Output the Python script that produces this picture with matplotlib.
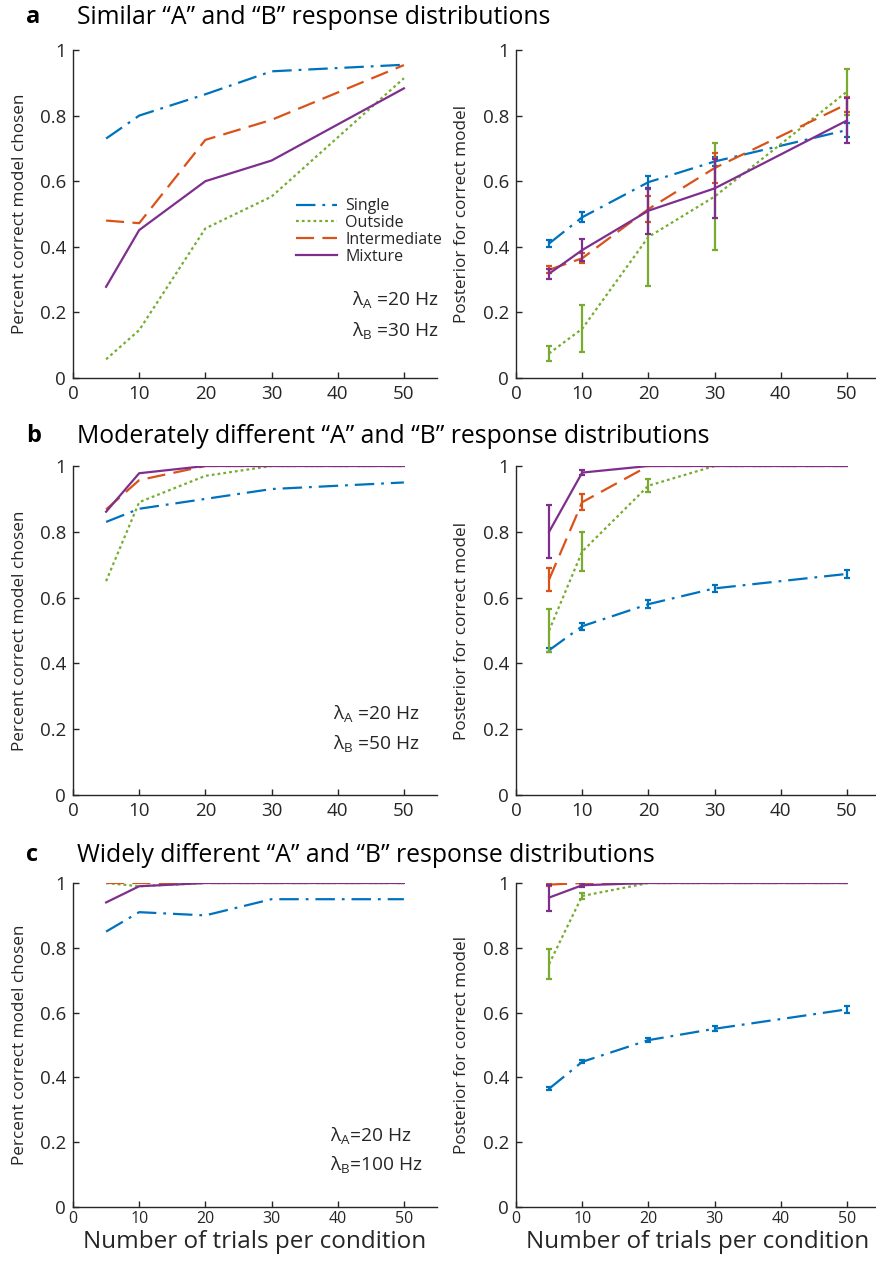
import matplotlib
matplotlib.use('Agg')
import matplotlib.pyplot as plt
import numpy as np

plt.rcParams['font.family'] = ['Open Sans', 'DejaVu Sans']
plt.rcParams['mathtext.fontset'] = 'custom'
plt.rcParams['mathtext.rm'] = 'Open Sans'
plt.rcParams['mathtext.it'] = 'Open Sans'
plt.rcParams['lines.scale_dashes'] = False

# ---------------- data ----------------
trials = [5, 10, 20, 30, 50]
x_ticks = [0, 10, 20, 30, 40, 50]
y_ticks = [0, 0.2, 0.4, 0.6, 0.8, 1]
y_tick_labels = ['0', '0.2', '0.4', '0.6', '0.8', '1']
models = ['Single', 'Outside', 'Intermediate', 'Mixture']

panel_letters = ['a', 'b', 'c']
panel_titles = ['Similar \u201cA\u201d and \u201cB\u201d response distributions',
                'Moderately different \u201cA\u201d and \u201cB\u201d response distributions',
                'Widely different \u201cA\u201d and \u201cB\u201d response distributions']
lambda_a_text = [r'$\lambda_{\mathrm{A}}$ =20 Hz', r'$\lambda_{\mathrm{A}}$ =20 Hz', r'$\lambda_{\mathrm{A}}$=20 Hz']
lambda_b_text = [r'$\lambda_{\mathrm{B}}$ =30 Hz', r'$\lambda_{\mathrm{B}}$ =50 Hz', r'$\lambda_{\mathrm{B}}$=100 Hz']

# percent correct model chosen (left column)
pc_a_single = [0.73, 0.80, 0.865, 0.935, 0.955]
pc_a_outside = [0.057, 0.146, 0.456, 0.553, 0.914]
pc_a_intermediate = [0.48, 0.472, 0.726, 0.787, 0.954]
pc_a_mixture = [0.278, 0.451, 0.60, 0.663, 0.883]

pc_b_single = [0.83, 0.87, 0.90, 0.93, 0.95]
pc_b_outside = [0.65, 0.89, 0.97, 1.0, 1.0]
pc_b_intermediate = [0.868, 0.957, 1.0, 1.0, 1.0]
pc_b_mixture = [0.861, 0.978, 1.0, 1.0, 1.0]

pc_c_single = [0.85, 0.91, 0.90, 0.95, 0.95]
pc_c_outside = [1.0, 0.99, 1.0, 1.0, 1.0]
pc_c_intermediate = [1.0, 1.0, 1.0, 1.0, 1.0]
pc_c_mixture = [0.94, 0.99, 1.0, 1.0, 1.0]

# posterior for correct model (right column) and error bars
post_a_single = [0.41, 0.49, 0.597, 0.66, 0.756]
post_a_outside = [0.075, 0.15, 0.43, 0.553, 0.873]
post_a_intermediate = [0.33, 0.365, 0.515, 0.64, 0.835]
post_a_mixture = [0.318, 0.39, 0.51, 0.578, 0.785]
err_a_single = [0.01, 0.015, 0.02, 0.015, 0.022]
err_a_outside = [0.022, 0.072, 0.15, 0.163, 0.07]
err_a_intermediate = [0.01, 0.015, 0.04, 0.046, 0.023]
err_a_mixture = [0.015, 0.034, 0.07, 0.09, 0.068]

post_b_single = [0.44, 0.513, 0.58, 0.628, 0.672]
post_b_outside = [0.50, 0.74, 0.94, 1.0, 1.0]
post_b_intermediate = [0.655, 0.89, 1.0, 1.0, 1.0]
post_b_mixture = [0.80, 0.98, 1.0, 1.0, 1.0]
err_b_single = [0.006, 0.01, 0.013, 0.01, 0.013]
err_b_outside = [0.065, 0.06, 0.02, 0.0, 0.0]
err_b_intermediate = [0.035, 0.025, 0.0, 0.0, 0.0]
err_b_mixture = [0.08, 0.008, 0.0, 0.0, 0.0]

post_c_single = [0.365, 0.448, 0.515, 0.55, 0.61]
post_c_outside = [0.75, 0.96, 1.0, 1.0, 1.0]
post_c_intermediate = [0.995, 1.0, 1.0, 1.0, 1.0]
post_c_mixture = [0.955, 0.993, 1.0, 1.0, 1.0]
err_c_single = [0.005, 0.005, 0.007, 0.008, 0.01]
err_c_outside = [0.045, 0.008, 0.0, 0.0, 0.0]
err_c_intermediate = [0.005, 0.002, 0.0, 0.0, 0.0]
err_c_mixture = [0.04, 0.006, 0.0, 0.0, 0.0]

# ---------------- styles ----------------
colors = {'Single': '#0072BD', 'Outside': '#77AC30',
          'Intermediate': '#D95319', 'Mixture': '#7E2F8E'}
styles = {'Single': (0, (14, 5, 2, 5)), 'Outside': (0, (2, 2.2)),
          'Intermediate': (0, (13, 6)), 'Mixture': '-'}
axis_color = '#262626'
LW = 1.6

pc_sets = [[pc_a_single, pc_a_outside, pc_a_intermediate, pc_a_mixture],
           [pc_b_single, pc_b_outside, pc_b_intermediate, pc_b_mixture],
           [pc_c_single, pc_c_outside, pc_c_intermediate, pc_c_mixture]]
post_sets = [[post_a_single, post_a_outside, post_a_intermediate, post_a_mixture],
             [post_b_single, post_b_outside, post_b_intermediate, post_b_mixture],
             [post_c_single, post_c_outside, post_c_intermediate, post_c_mixture]]
err_sets = [[err_a_single, err_a_outside, err_a_intermediate, err_a_mixture],
            [err_b_single, err_b_outside, err_b_intermediate, err_b_mixture],
            [err_c_single, err_c_outside, err_c_intermediate, err_c_mixture]]

W, H = 876, 1264
fig = plt.figure(figsize=(W / 100, H / 100), dpi=100)

rows = [(50, 378), (466, 795), (883, 1207)]
title_y = [17, 436, 855]
left_x0, right_x0, ax_w = 73, 516, 364


def style_axis(ax, bottom_row=False):
    ax.set_xlim(0, 55)
    ax.set_ylim(0, 1)
    ax.set_xticks(x_ticks)
    ax.set_xticklabels([str(t) for t in x_ticks])
    ax.set_yticks(y_ticks)
    ax.set_yticklabels(y_tick_labels)
    for s in ['top', 'right']:
        ax.spines[s].set_visible(False)
    for s in ['left', 'bottom']:
        ax.spines[s].set_color(axis_color)
        ax.spines[s].set_linewidth(1.0)
    ax.tick_params(direction='in', length=4, width=1, colors=axis_color,
                   labelsize=13.5, pad=5)
    ax.patch.set_alpha(0)
    if bottom_row:
        ax.tick_params(axis='x', labelsize=11.5, pad=3)
        ax.set_xlabel('Number of trials per condition', fontsize=17.5, color=axis_color)
        ax.xaxis.set_label_coords(0.5, -0.072)


for r, (top, bot) in enumerate(rows):
    h = bot - top
    axL = fig.add_axes([left_x0 / W, (H - bot) / H, ax_w / W, h / H])
    axR = fig.add_axes([right_x0 / W, (H - bot) / H, ax_w / W, h / H])

    for m, vals in zip(models, pc_sets[r]):
        axL.plot(trials, vals, color=colors[m], linestyle=styles[m], lw=LW, label=m)

    for m, vals, errs in zip(models, post_sets[r], err_sets[r]):
        axR.plot(trials, vals, color=colors[m], linestyle=styles[m], lw=LW)
        xs = [t for t, e in zip(trials, errs) if e > 0]
        ys = [v for v, e in zip(vals, errs) if e > 0]
        es = [e for e in errs if e > 0]
        axR.errorbar(xs, ys, yerr=es, fmt='none', ecolor=colors[m],
                     elinewidth=LW, capsize=2, capthick=LW)

    style_axis(axL, bottom_row=(r == 2))
    style_axis(axR, bottom_row=(r == 2))
    axL.set_ylabel('Percent correct model chosen', fontsize=12.3, color=axis_color)
    axL.yaxis.set_label_coords(-0.124, 0.5)
    axR.set_ylabel('Posterior for correct model', fontsize=12.3, color=axis_color)
    axR.yaxis.set_label_coords(-0.126, 0.5)

    lam_pos = [(0.766, 0.238, 0.146), (0.714, 0.249, 0.158), (0.706, 0.222, 0.13)][r]
    axL.text(lam_pos[0], lam_pos[1], lambda_a_text[r], transform=axL.transAxes,
             fontsize=13.8, color=axis_color, va='center', ha='left')
    axL.text(lam_pos[0], lam_pos[2], lambda_b_text[r], transform=axL.transAxes,
             fontsize=13.8, color=axis_color, va='center', ha='left')

    fig.text(26 / W, 1 - title_y[r] / H, panel_letters[r], fontsize=17,
             fontweight='bold', va='center', ha='left', color='black')
    fig.text(77 / W, 1 - title_y[r] / H, panel_titles[r], fontsize=17.8,
             va='center', ha='left', color='black')

    if r == 0:
        leg = axL.legend(loc='upper left', bbox_to_anchor=(0.612, 0.548),
                         frameon=False, fontsize=11.5, handlelength=2.6,
                         handletextpad=0.5, labelspacing=0.05, borderpad=0,
                         borderaxespad=0)
        for t in leg.get_texts():
            t.set_color(axis_color)

fig.savefig('out.png', dpi=100)
